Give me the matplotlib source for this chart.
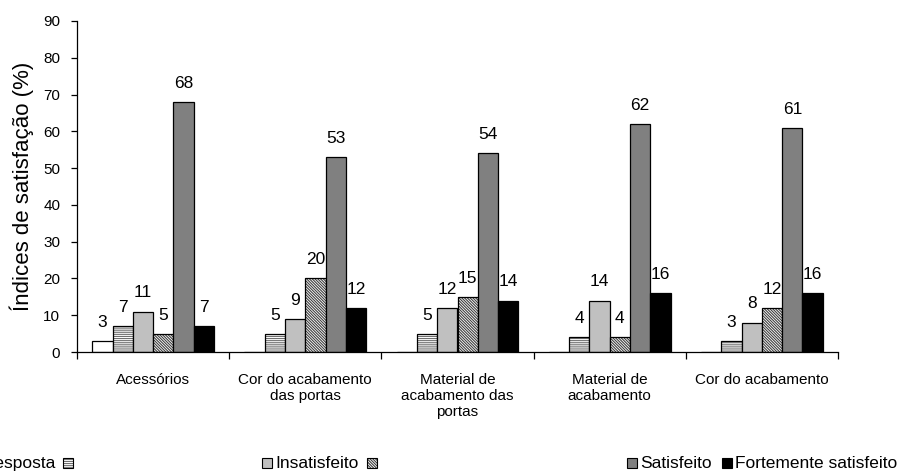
import matplotlib
matplotlib.use("Agg")
import matplotlib.pyplot as plt
from matplotlib.patches import Rectangle
import numpy as np

plt.rcParams['font.family'] = ['Liberation Sans', 'DejaVu Sans']
plt.rcParams['hatch.linewidth'] = 0.8

categories = ["Acessórios", "Cor do acabamento\ndas portas", "Material de\nacabamento das\nportas",
              "Material de\nacabamento", "Cor do acabamento"]
series_names = ["Sem resposta", "Fortemente insatisfeito", "Insatisfeito", "Indiferente",
                "Satisfeito", "Fortemente satisfeito"]
sem_resposta = [3, 0, 0, 0, 0]
fortemente_insatisfeito = [7, 5, 5, 4, 3]
insatisfeito = [11, 9, 12, 14, 8]
indiferente = [5, 20, 15, 4, 12]
satisfeito = [68, 53, 54, 62, 61]
fortemente_satisfeito = [7, 12, 14, 16, 16]
y_ticks = [0, 10, 20, 30, 40, 50, 60, 70, 80, 90]

series = [sem_resposta, fortemente_insatisfeito, insatisfeito, indiferente, satisfeito, fortemente_satisfeito]
faces = ["white", "white", "#c0c0c0", "white", "#808080", "black"]
hatches = [None, "-" * 8, None, "\\" * 12, None, None]
hatch_cols = [None, "#707070", None, "#404040", None, None]

fig = plt.figure(figsize=(9, 4.73), dpi=100)
ax = fig.add_axes([77 / 900, 1 - 352 / 473, 761 / 900, 331 / 473])

n = len(series)
w = 0.8 / n
x = np.arange(len(categories)) + 0.5
for i, (vals, fc, h, hc) in enumerate(zip(series, faces, hatches, hatch_cols)):
    pos = x + (i - (n - 1) / 2) * w
    if h:
        ax.bar(pos, vals, w, color=fc, edgecolor=hc, hatch=h, linewidth=0)
        ax.bar(pos, vals, w, fill=False, edgecolor="black", linewidth=0.9)
    else:
        ax.bar(pos, vals, w, color=fc, edgecolor="black", linewidth=0.9)
    for xp, v in zip(pos, vals):
        if v > 0:
            ax.annotate(f"{v}", (xp, v), xytext=(0, 8), textcoords="offset points",
                        ha="center", va="bottom", fontsize=12.5)

ax.set_xlim(0, len(categories))
ax.set_ylim(0, 90)
ax.set_yticks(y_ticks)
ax.tick_params(axis="y", labelsize=11, length=4, width=0.9, pad=8)
ax.set_xticks(np.arange(len(categories) + 1))
ax.set_xticklabels([])
ax.tick_params(axis="x", which="major", length=5, width=0.9, direction="out")
ax.set_xticks(x, minor=True)
ax.set_xticklabels(categories, minor=True, fontsize=11, linespacing=1.2)
ax.tick_params(axis="x", which="minor", length=0, pad=15)
for s in ("top", "right"):
    ax.spines[s].set_visible(False)
for s in ("left", "bottom"):
    ax.spines[s].set_linewidth(0.9)
ax.set_ylabel("Índices de satisfação (%)", fontsize=16, labelpad=7)

# legend drawn in figure pixel coordinates
def px(xp, yp):
    return xp / 900, 1 - yp / 473

legend_items = [
    (-70, "Sem resposta"),
    (63, ""),
    (262, "Insatisfeito"),
    (367, ""),
    (627, "Satisfeito"),
    (722, "Fortemente satisfeito"),
]
for (lx, label), fc, h, hc in zip(legend_items, faces, hatches, hatch_cols):
    x0, y0 = px(lx, 468)
    if h:
        fig.patches.append(Rectangle((x0, y0), 10 / 900, 10 / 473, transform=fig.transFigure,
                                     facecolor=fc, edgecolor=hc, hatch=h, linewidth=0))
        fig.patches.append(Rectangle((x0, y0), 10 / 900, 10 / 473, transform=fig.transFigure,
                                     fill=False, edgecolor="black", linewidth=0.8))
    else:
        fig.patches.append(Rectangle((x0, y0), 10 / 900, 10 / 473, transform=fig.transFigure,
                                     facecolor=fc, edgecolor="black", linewidth=0.8))
    if label:
        if lx < 0:
            tx, ty = px(55, 463)
            fig.text(tx, ty, label, fontsize=12.5, ha="right", va="center")
        else:
            tx, ty = px(lx + 13, 463)
            fig.text(tx, ty, label, fontsize=12.5, ha="left", va="center")

fig.savefig("out.png", dpi=100)
